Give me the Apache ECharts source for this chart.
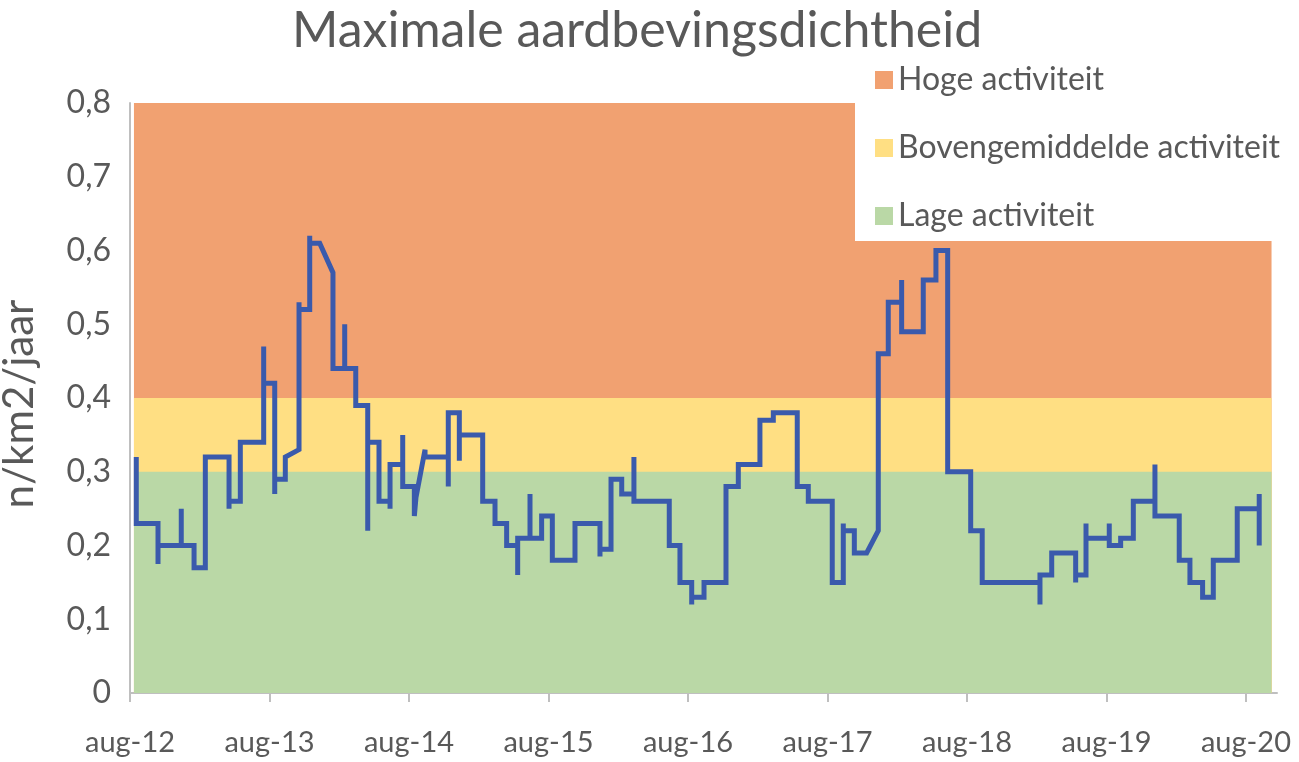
<!DOCTYPE html>
<html>
<head>
<meta charset="utf-8">
<script src="https://cdn.jsdelivr.net/npm/echarts@6/dist/echarts.min.js"></script>
<style>
html,body{margin:0;padding:0;background:#fff;}
#chart{width:1299px;height:762px;}
</style>
</head>
<body>
<div id="chart"></div>
<script>
// x positions: months since August 2012
const months = [
  0.54, 0.54,
  2.41, 2.41, 2.41,
  4.41, 4.41, 4.41,
  5.51, 5.51,
  6.48, 6.48,
  8.52, 8.52, 8.52,
  9.49, 9.49,
  11.50, 11.50, 11.50,
  12.45, 12.45, 12.45,
  13.36, 13.36,
  14.54, 14.54, 14.54,
  15.46, 15.46, 15.46,
  16.32,
  17.46, 17.46,
  18.47, 18.47, 18.47,
  19.42, 19.42,
  20.45, 20.45, 20.45,
  21.42, 21.42,
  22.37, 22.37, 22.37,
  23.46, 23.46, 23.46,
  24.46, 24.46, 24.60,
  25.38, 25.38,
  27.38, 27.38, 27.38,
  28.33, 28.33, 28.33,
  30.34, 30.34,
  31.40, 31.40,
  32.40, 32.40,
  33.35, 33.35, 33.35,
  34.41, 34.41, 34.41,
  35.41, 35.41,
  36.33, 36.33,
  38.28, 38.28,
  40.43, 40.43, 40.43,
  41.38, 41.38,
  42.30, 42.30,
  43.35, 43.35, 43.35,
  46.39, 46.39,
  47.31, 47.31,
  48.32, 48.32, 48.32,
  49.38, 49.38,
  51.27, 51.27,
  52.33, 52.33,
  54.19, 54.19,
  55.34, 55.34,
  57.40, 57.40,
  58.35, 58.35,
  60.41, 60.41,
  61.36, 61.36, 61.36,
  62.31, 62.31,
  63.37, 64.37, 64.37,
  65.23, 65.23,
  66.38, 66.38, 66.38,
  68.24, 68.24,
  69.33, 69.33,
  70.34, 70.34,
  72.32, 72.32,
  73.31, 73.31,
  78.28, 78.28, 78.28,
  79.29, 79.29,
  81.35, 81.35, 81.35,
  82.24, 82.24, 82.24,
  84.24, 84.24, 84.24,
  85.22, 85.22,
  86.31, 86.31,
  88.17, 88.17, 88.17,
  90.26, 90.26,
  91.18, 91.18,
  92.27, 92.27,
  93.19, 93.19,
  95.25, 95.25,
  97.14, 97.14, 97.14
];
// maximum earthquake density (n/km2/jaar)
const density = [
  0.32, 0.23,
  0.23, 0.175, 0.20,
  0.20, 0.25, 0.20,
  0.20, 0.17,
  0.17, 0.32,
  0.32, 0.25, 0.26,
  0.26, 0.34,
  0.34, 0.47, 0.42,
  0.42, 0.27, 0.29,
  0.29, 0.32,
  0.33, 0.53, 0.52,
  0.52, 0.62, 0.61,
  0.61,
  0.57, 0.44,
  0.44, 0.50, 0.44,
  0.44, 0.39,
  0.39, 0.22, 0.34,
  0.34, 0.26,
  0.26, 0.25, 0.31,
  0.31, 0.35, 0.28,
  0.28, 0.24, 0.265,
  0.33, 0.32,
  0.32, 0.28, 0.38,
  0.38, 0.315, 0.35,
  0.35, 0.26,
  0.26, 0.23,
  0.23, 0.20,
  0.20, 0.16, 0.21,
  0.21, 0.27, 0.21,
  0.21, 0.24,
  0.24, 0.18,
  0.18, 0.23,
  0.23, 0.185, 0.195,
  0.195, 0.29,
  0.29, 0.27,
  0.27, 0.32, 0.26,
  0.26, 0.20,
  0.20, 0.15,
  0.15, 0.12, 0.13,
  0.13, 0.15,
  0.15, 0.28,
  0.28, 0.31,
  0.31, 0.37,
  0.37, 0.38,
  0.38, 0.28,
  0.28, 0.26,
  0.26, 0.15,
  0.15, 0.23, 0.22,
  0.22, 0.19,
  0.19, 0.22, 0.46,
  0.46, 0.53,
  0.53, 0.56, 0.49,
  0.49, 0.56,
  0.56, 0.60,
  0.60, 0.30,
  0.30, 0.22,
  0.22, 0.15,
  0.15, 0.12, 0.16,
  0.16, 0.19,
  0.19, 0.15, 0.16,
  0.16, 0.23, 0.21,
  0.21, 0.23, 0.20,
  0.20, 0.21,
  0.21, 0.26,
  0.26, 0.31, 0.24,
  0.24, 0.18,
  0.18, 0.15,
  0.15, 0.13,
  0.13, 0.18,
  0.18, 0.25,
  0.25, 0.27, 0.20
];
const bandNames = ['Hoge activiteit', 'Bovengemiddelde activiteit', 'Lage activiteit'];
const bandUpper = [0.8, 0.4, 0.3];
const bandColors = ['#F1A171', '#FFDF83', '#BAD8A6'];
const bandRange = [0.34, 98.2];            // months covered by the bands
const tickMonths = [0, 12, 24, 36, 48, 60, 72, 84, 96];
const tickLabels = ['aug-12','aug-13','aug-14','aug-15','aug-16','aug-17','aug-18','aug-19','aug-20'];
const yTicks = [0, 0.1, 0.2, 0.3, 0.4, 0.5, 0.6, 0.7, 0.8];

const FONT = 'Lato, "Open Sans", sans-serif';
const TXT = '#595959';

const chart = echarts.init(document.getElementById('chart'), null, {renderer: 'canvas'});

const bandSeries = bandNames.map((name, i) => ({
  name: name,
  type: 'line',
  data: [[bandRange[0], bandUpper[i]], [bandRange[1], bandUpper[i]]],
  symbol: 'none',
  lineStyle: {width: 0},
  itemStyle: {color: bandColors[i]},
  areaStyle: {color: bandColors[i], opacity: 1},
  silent: true,
  z: 1
}));

const option = {
  animation: false,
  title: {
    text: 'Maximale aardbevingsdichtheid',
    left: 292,
    top: 6,
    padding: 0,
    textStyle: {fontFamily: FONT, fontSize: 50, fontWeight: 'normal', color: TXT}
  },
  legend: {
    data: bandNames.map(n => ({name: n, icon: 'rect'})),
    orient: 'vertical',
    left: 855,
    top: 56,
    padding: [8, 40, 9, 20],
    itemGap: 36,
    itemWidth: 18,
    itemHeight: 18,
    backgroundColor: '#ffffff',
    selectedMode: false,
    textStyle: {fontFamily: FONT, fontSize: 32, color: TXT, lineHeight: 30}
  },
  grid: {left: 130, right: 22, top: 103, bottom: 69, containLabel: false, outerBoundsMode: 'none'},
  xAxis: {
    type: 'value',
    min: 0,
    max: 98.67,
    interval: 12,
    splitLine: {show: false},
    axisLine: {show: true, lineStyle: {color: '#BFBFBF', width: 2}},
    axisTick: {show: true, length: 9, lineStyle: {color: '#BFBFBF', width: 2}, customValues: tickMonths},
    axisLabel: {
      customValues: tickMonths,
      margin: 35,
      fontFamily: FONT, fontSize: 29, color: TXT,
      formatter: v => { const i = tickMonths.indexOf(Math.round(v)); return i >= 0 ? tickLabels[i] : ''; }
    }
  },
  yAxis: {
    type: 'value',
    min: 0,
    max: 0.8,
    interval: 0.1,
    name: 'n/km2/jaar',
    nameLocation: 'middle',
    nameGap: 90,
    nameTextStyle: {fontFamily: FONT, fontSize: 42, color: TXT, padding: [0, 12, 0, 0]},
    splitLine: {show: false},
    axisLine: {show: true, lineStyle: {color: '#BFBFBF', width: 2}},
    axisTick: {show: false},
    axisLabel: {
      margin: 19,
      fontFamily: FONT, fontSize: 32, color: TXT,
      formatter: v => { const k = yTicks.findIndex(t => Math.abs(t - v) < 1e-6); return k === 0 ? '0' : (k > 0 ? yTicks[k].toFixed(1).replace('.', ',') : ''); }
    }
  },
  series: bandSeries.concat([{
    name: 'Dichtheid',
    type: 'line',
    data: months.map((m, i) => [m, density[i]]),
    symbol: 'none',
    lineStyle: {color: '#3A5AAC', width: 5, join: 'miter'},
    itemStyle: {color: '#3A5AAC'},
    silent: true,
    z: 3
  }])
};
chart.setOption(option);
</script>
</body>
</html>
